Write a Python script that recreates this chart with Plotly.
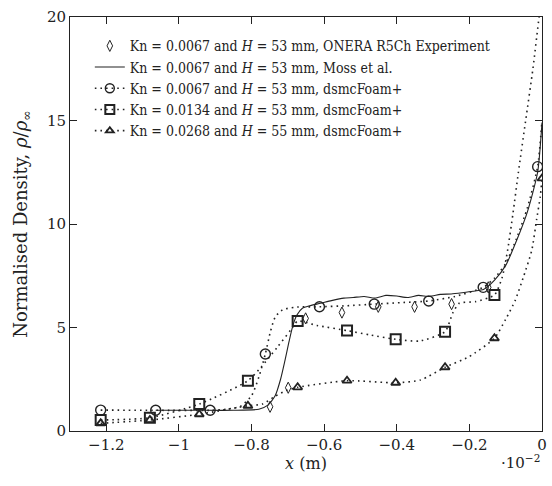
import plotly.graph_objects as go

# ---------------- data (x in units of 1e-2 m) ----------------
exp_x = [-0.749, -0.699, -0.651, -0.551, -0.451, -0.351, -0.249, -0.148]
exp_y = [1.17, 2.09, 5.44, 5.72, 6.00, 6.00, 6.13, 6.94]

moss_x = [-1.064, -0.95, -0.85, -0.78, -0.755, -0.735, -0.72, -0.708, -0.697, -0.686, -0.675,
          -0.66, -0.64, -0.61, -0.58, -0.546, -0.52, -0.49, -0.46, -0.43, -0.40, -0.37,
          -0.34, -0.31, -0.28, -0.25, -0.22, -0.19, -0.16, -0.13, -0.10, -0.07, -0.04,
          -0.012, 0.0]
moss_y = [1.0, 1.0, 1.0, 1.05, 1.25, 1.7, 2.5, 3.4, 4.3, 5.1, 5.6,
          5.93, 6.05, 6.17, 6.3, 6.42, 6.45, 6.5, 6.42, 6.55, 6.52, 6.45,
          6.55, 6.5, 6.6, 6.62, 6.68, 6.75, 6.85, 7.3, 8.0, 9.2, 10.6,
          12.5, 14.9]

c_mx = [-1.2155, -1.064, -0.914, -0.762, -0.613, -0.462, -0.312, -0.162, -0.012]
c_my = [1.01, 1.0, 1.0, 3.72, 6.0, 6.13, 6.28, 6.94, 12.77]
c_lx = [-1.2155, -1.064, -0.914, -0.87, -0.83, -0.80, -0.78, -0.762, -0.748, -0.735, -0.715,
        -0.68, -0.613, -0.54, -0.462, -0.39, -0.312, -0.24, -0.162, -0.13, -0.10, -0.07,
        -0.04, -0.012, 0.0]
c_ly = [1.01, 1.0, 1.0, 1.05, 1.2, 1.7, 2.6, 3.72, 4.8, 5.5, 5.85,
        5.98, 6.0, 6.05, 6.13, 6.2, 6.28, 6.5, 6.94, 7.4, 8.1, 9.3,
        10.8, 12.77, 15.0]

s_mx = [-1.2155, -1.08, -0.944, -0.81, -0.673, -0.537, -0.403, -0.267, -0.131]
s_my = [0.53, 0.64, 1.30, 2.43, 5.31, 4.85, 4.43, 4.80, 6.57]
s_lx = [-1.2155, -1.08, -0.944, -0.81, -0.773, -0.728, -0.692, -0.673, -0.62, -0.537, -0.474,
        -0.403, -0.337, -0.267, -0.246, -0.228, -0.183, -0.131, -0.11, -0.095, -0.08, -0.065,
        -0.045, -0.025, -0.008, 0.0]
s_ly = [0.53, 0.64, 1.30, 2.43, 3.1, 4.07, 4.88, 5.31, 5.1, 4.85, 4.64,
        4.43, 4.35, 4.80, 5.69, 6.17, 6.25, 6.57, 7.4, 8.7, 10.5, 12.5,
        15.0, 17.5, 20.0, 21.0]

t_mx = [-1.2155, -1.08, -0.944, -0.81, -0.673, -0.537, -0.403, -0.267, -0.131, 0.0]
t_my = [0.37, 0.53, 0.81, 1.22, 2.11, 2.43, 2.33, 3.08, 4.48, 12.2]
t_lx = [-1.2155, -1.08, -0.944, -0.81, -0.77, -0.737, -0.705, -0.673, -0.537, -0.403, -0.335,
        -0.267, -0.201, -0.131, -0.10, -0.074, -0.05, -0.028, -0.015, -0.005, 0.0]
t_ly = [0.37, 0.53, 0.81, 1.22, 1.3, 1.66, 1.95, 2.11, 2.43, 2.33, 2.46,
        3.08, 3.59, 4.48, 5.4, 6.3, 7.5, 8.74, 10.2, 11.3, 12.2]

x_ticks = [-1.2, -1.0, -0.8, -0.6, -0.4, -0.2, 0.0]
x_ticklabels = ["\u22121.2", "\u22121", "\u22120.8", "\u22120.6", "\u22120.4", "\u22120.2", "0"]
y_ticks = [0, 5, 10, 15, 20]

names = [
    "Kn = 0.0067 and <i>H</i> = 53 mm, ONERA R5Ch Experiment",
    "Kn = 0.0067 and <i>H</i> = 53 mm, Moss et al.",
    "Kn = 0.0067 and <i>H</i> = 53 mm, dsmcFoam+",
    "Kn = 0.0134 and <i>H</i> = 53 mm, dsmcFoam+",
    "Kn = 0.0268 and <i>H</i> = 55 mm, dsmcFoam+",
]

FONT = "DejaVu Serif"
LEGFONT = "DejaVu Serif Condensed, DejaVu Serif"
INK = "#222222"
DOT = dict(color=INK, width=1.6, dash="1.6px,4px")

fig = go.Figure()

fig.add_trace(go.Scatter(x=exp_x, y=exp_y, mode="markers", name=names[0],
                         marker=dict(symbol="diamond-tall-open", size=8, color=INK,
                                     line=dict(width=1, color=INK))))
fig.add_trace(go.Scatter(x=moss_x, y=moss_y, mode="lines", name=names[1],
                         line=dict(color=INK, width=1.1, shape="spline", smoothing=0.6)))

series = [
    (c_lx, c_ly, c_mx, c_my, "circle-open", 10, 1.4, names[2]),
    (s_lx, s_ly, s_mx, s_my, "square-open", 10, 2.0, names[3]),
    (t_lx, t_ly, t_mx, t_my, "triangle-up-open", 8, 1.8, names[4]),
]
for lx, ly, mx, my, sym, sz, lw, nm in series:
    fig.add_trace(go.Scatter(x=lx, y=ly, mode="lines", showlegend=False,
                             line=dict(shape="spline", smoothing=0.6, **DOT)))
    fig.add_trace(go.Scatter(x=mx, y=my, mode="markers", showlegend=False,
                             marker=dict(symbol=sym, size=sz, color=INK,
                                         line=dict(width=lw, color=INK))))
    fig.add_trace(go.Scatter(x=[None], y=[None], mode="lines+markers", name=nm,
                             line=DOT,
                             marker=dict(symbol=sym, size=sz - 1, color=INK,
                                         line=dict(width=lw, color=INK))))

axis_common = dict(showline=True, linecolor=INK, linewidth=1, mirror="ticks",
                   ticks="inside", ticklen=7, tickcolor=INK, tickwidth=1,
                   showgrid=False, zeroline=False,
                   tickfont=dict(family=FONT, size=15, color=INK))

fig.update_layout(
    width=552, height=486,
    margin=dict(l=70, r=5, t=17, b=55),
    paper_bgcolor="white", plot_bgcolor="white",
    font=dict(family=FONT, size=14, color=INK),
    xaxis=dict(range=[-1.3, 0], tickvals=x_ticks, ticktext=x_ticklabels,
               title=dict(text="<i>x</i> (m)", font=dict(family=FONT, size=16), standoff=4),
               **axis_common),
    yaxis=dict(range=[0, 20], tickvals=y_ticks,
               title=dict(text="Normalised Density, <i>ρ</i>/<i>ρ</i><sub>∞</sub>",
                          font=dict(family=FONT, size=18), standoff=14),
               **axis_common),
    legend=dict(x=0.042, y=0.968, xanchor="left", yanchor="top",
                bgcolor="rgba(0,0,0,0)", borderwidth=0,
                font=dict(family=LEGFONT, size=14, color=INK),
                tracegroupgap=0, itemsizing="trace"),
    showlegend=True,
    annotations=[dict(text="·10<sup>−2</sup>", xref="paper", yref="paper",
                      x=1.0, y=-0.075, xanchor="right", yanchor="middle",
                      showarrow=False, font=dict(family=FONT, size=15, color=INK))],
)

fig.write_html("out.html")
